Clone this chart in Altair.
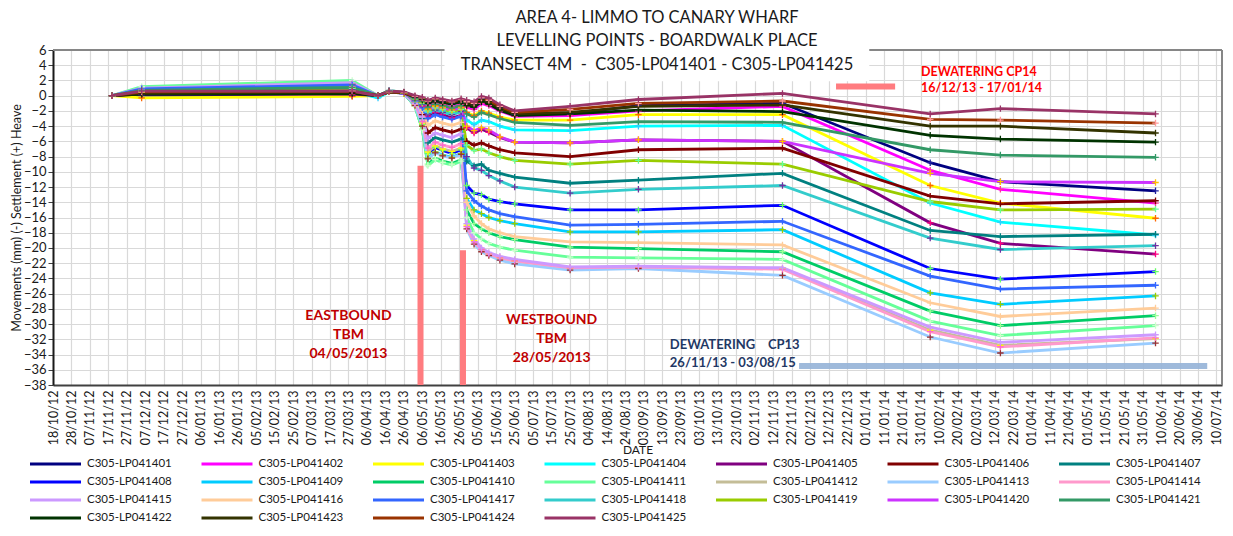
import altair as alt
import pandas as pd

# ---------------- data ----------------
dates = ["2012-11-19", "2012-12-05", "2013-03-29", "2013-04-12", "2013-04-18",
         "2013-04-26", "2013-05-02", "2013-05-06", "2013-05-09", "2013-05-13",
         "2013-05-17", "2013-05-22", "2013-05-27", "2013-05-30", "2013-06-03",
         "2013-06-07", "2013-06-11", "2013-06-17", "2013-06-25", "2013-07-25",
         "2013-08-31", "2013-11-17", "2014-02-05", "2014-03-15", "2014-06-07"]

names = ["C305-LP0414%02d" % i for i in range(1, 26)]

lp01 = [0, 0.1, 0.0, 0.0, 0.5, 0.4, -0.2, -0.5, -0.9, -0.7, -0.8, -1.0, -0.8, -1.0, -1.1, -0.4, -0.7, -1.6, -2.5, -2.4, -1.3, -1.0, -8.8, -11.3, -12.5]
lp02 = [0, 0.3, 0.4, 0.0, 0.6, 0.4, -0.3, -0.7, -1.3, -1.0, -1.2, -1.5, -1.2, -1.5, -1.8, -1.0, -1.3, -2.0, -2.7, -2.6, -2.0, -1.4, -9.8, -12.3, -14.1]
lp03 = [0, -0.3, -0.1, 0.0, 0.5, 0.3, -0.4, -0.9, -1.7, -1.3, -1.5, -1.8, -1.5, -2.2, -2.6, -2.0, -2.3, -2.8, -3.2, -3.2, -2.5, -2.5, -11.8, -14.1, -16.1]
lp04 = [0, 0.4, 0.6, -0.3, 0.5, 0.3, -0.4, -1.1, -2.2, -1.8, -2.0, -2.4, -2.1, -3.2, -3.8, -3.2, -3.4, -4.0, -4.5, -4.6, -4.0, -3.9, -14.1, -16.6, -18.3]
lp05 = [0, 0.2, 0.2, 0.0, 0.6, 0.4, -0.5, -1.4, -2.7, -2.2, -2.5, -2.9, -2.6, -4.2, -4.9, -4.4, -4.8, -5.5, -6.1, -6.2, -5.8, -6.0, -16.7, -19.4, -20.8]
lp06 = [0, 0.3, 0.4, 0.0, 0.6, 0.3, -0.8, -2.5, -4.9, -4.2, -4.5, -4.8, -4.4, -6.0, -6.5, -6.2, -6.6, -7.1, -7.5, -8.0, -7.1, -6.9, -13.2, -14.2, -13.8]
lp07 = [0, 0.5, 0.8, 0.0, 0.6, 0.3, -1.0, -3.0, -6.2, -5.5, -5.8, -6.1, -5.7, -8.6, -9.2, -9.0, -9.8, -10.2, -10.7, -11.5, -11.1, -10.2, -17.7, -18.5, -18.2]
lp08 = [0, 0.6, 1.0, 0.0, 0.6, 0.3, -1.2, -3.8, -7.6, -6.8, -7.2, -7.6, -7.1, -11.8, -12.8, -13.0, -13.6, -13.9, -14.2, -15.0, -15.0, -14.4, -22.7, -24.1, -23.1]
lp09 = [0, 0.8, 1.3, 0.0, 0.6, 0.3, -1.3, -4.0, -8.2, -7.4, -7.8, -8.1, -7.6, -13.5, -15.0, -15.5, -16.0, -16.4, -16.8, -17.9, -17.9, -17.6, -25.9, -27.4, -26.3]
lp10 = [0, 1.0, 1.6, 0.0, 0.7, 0.4, -1.4, -4.4, -9.0, -8.2, -8.6, -8.9, -8.4, -15.0, -16.8, -17.5, -18.0, -18.5, -18.9, -19.9, -20.1, -20.5, -28.3, -30.2, -28.9]
lp11 = [0, 1.2, 2.0, 0.0, 0.7, 0.4, -1.4, -4.5, -9.2, -8.4, -8.8, -9.1, -8.6, -16.0, -18.0, -18.8, -19.4, -19.9, -20.3, -21.2, -21.3, -21.5, -29.6, -31.5, -30.2]
lp12 = [0, 0.7, 1.1, 0.0, 0.6, 0.4, -1.2, -3.6, -7.4, -6.6, -7.0, -7.3, -6.9, -17.0, -19.0, -20.2, -20.8, -21.3, -21.7, -22.6, -22.5, -22.7, -30.8, -32.8, -31.9]
lp13 = [0, 0.9, 1.5, 0.0, 0.6, 0.4, -1.3, -4.0, -8.3, -7.5, -7.9, -8.2, -7.7, -17.5, -19.5, -20.5, -21.0, -21.6, -22.1, -22.9, -22.7, -23.6, -31.7, -33.8, -32.5]
lp14 = [0, 0.8, 1.2, 0.0, 0.6, 0.4, -1.1, -3.4, -6.9, -6.1, -6.5, -6.8, -6.3, -17.2, -19.2, -20.2, -20.8, -21.3, -21.7, -22.6, -22.5, -22.8, -31.0, -33.0, -31.8]
lp15 = [0, 1.0, 1.7, 0.0, 0.7, 0.4, -1.0, -2.8, -5.6, -4.9, -5.2, -5.5, -5.0, -16.8, -18.8, -20.0, -20.6, -21.1, -21.5, -22.5, -22.4, -22.6, -30.4, -32.4, -31.4]
lp16 = [0, 0.6, 0.9, 0.0, 0.6, 0.4, -0.8, -2.0, -3.9, -3.3, -3.6, -3.9, -3.5, -14.0, -15.8, -16.8, -17.5, -18.0, -18.5, -19.2, -19.3, -19.6, -27.2, -29.0, -27.9]
lp17 = [0, 0.9, 1.4, 0.0, 0.6, 0.4, -0.7, -1.6, -3.0, -2.5, -2.8, -3.1, -2.7, -12.5, -13.8, -14.5, -15.0, -15.5, -15.9, -17.0, -16.9, -16.5, -23.7, -25.4, -24.9]
lp18 = [0, 0.5, 0.8, 0.0, 0.6, 0.4, -0.6, -1.2, -2.4, -1.9, -2.2, -2.5, -2.1, -8.0, -9.5, -9.8, -10.5, -11.2, -12.0, -12.8, -12.3, -11.8, -18.7, -20.2, -19.7]
lp19 = [0, 0.6, 1.0, 0.0, 0.6, 0.4, -0.5, -1.0, -2.0, -1.6, -1.8, -2.1, -1.8, -6.5, -7.2, -7.0, -7.5, -8.0, -8.5, -9.0, -8.5, -9.0, -13.9, -15.0, -14.9]
lp20 = [0, 0.4, 0.6, 0.0, 0.5, 0.3, -0.4, -0.9, -1.8, -1.4, -1.6, -1.9, -1.6, -4.0, -4.6, -4.2, -4.5, -5.4, -6.1, -6.2, -5.8, -6.0, -10.2, -11.3, -11.4]
lp21 = [0, 0.7, 1.1, 0.0, 0.6, 0.4, -0.4, -0.8, -1.5, -1.1, -1.3, -1.6, -1.3, -2.4, -2.8, -2.2, -2.5, -3.0, -3.5, -3.9, -3.4, -3.5, -7.1, -7.8, -8.1]
lp22 = [0, 0.2, 0.3, 0.0, 0.5, 0.4, -0.2, -0.5, -1.0, -0.7, -0.9, -1.1, -0.8, -1.3, -1.5, -0.8, -1.1, -1.9, -2.6, -2.4, -1.9, -2.1, -5.2, -5.7, -6.1]
lp23 = [0, 0.3, 0.5, 0.0, 0.5, 0.4, -0.1, -0.4, -0.8, -0.5, -0.7, -0.9, -0.6, -1.0, -1.2, -0.5, -0.8, -1.6, -2.4, -2.2, -1.4, -1.2, -4.0, -4.0, -4.9]
lp24 = [0, 0.5, 0.6, 0.0, 0.5, 0.4, -0.1, -0.3, -0.7, -0.4, -0.6, -0.8, -0.5, -0.8, -1.0, -0.3, -0.6, -1.4, -2.2, -1.8, -1.0, -0.7, -3.1, -3.2, -3.6]
lp25 = [0, 0.6, 0.6, 0.0, 0.6, 0.5, 0.0, -0.2, -0.6, -0.3, -0.5, -0.7, -0.4, -0.6, -0.8, -0.1, -0.3, -1.2, -2.0, -1.4, -0.5, 0.3, -2.4, -1.7, -2.4]

series = [lp01, lp02, lp03, lp04, lp05, lp06, lp07, lp08, lp09, lp10, lp11, lp12, lp13,
          lp14, lp15, lp16, lp17, lp18, lp19, lp20, lp21, lp22, lp23, lp24, lp25]

line_colors = ["#000080", "#FF00FF", "#FFFF00", "#00FFFF", "#800080", "#800000", "#008080",
               "#0000FF", "#00CCFF", "#00CC66", "#66FF99", "#C4BD97", "#99CCFF", "#FF99CC",
               "#CC99FF", "#FFCC99", "#3366FF", "#33CCCC", "#99CC00", "#CC33FF", "#339966",
               "#003300", "#333300", "#993300", "#993366"]
marker_colors = ["#1F1F9F", "#FF3399", "#FF6600", "#33CCFF", "#FF0080", "#800000", "#008080",
                 "#66FF66", "#99CC00", "#99FF99", "#CCFFCC", "#FFFF00", "#993333", "#FF66CC",
                 "#CC99FF", "#FFCC99", "#3366FF", "#7030A0", "#66FF99", "#FFC000", "#339966",
                 "#003300", "#333300", "#FF9999", "#993366"]

tbm_dates = ["2013-05-05", "2013-05-28"]
tbm_tops = [-9.2, -20.3]
cp13_span = ["2013-11-26", "2014-07-05"]
cp14_span = ["2013-12-16", "2014-01-17"]
x_start, x_end = "2012-10-18", "2014-07-13"
y_min, y_max = -38, 6

title_lines = ["AREA 4- LIMMO TO CANARY WHARF",
               "LEVELLING POINTS - BOARDWALK PLACE",
               "TRANSECT 4M\u00a0\u00a0-\u00a0\u00a0C305-LP041401 - C305-LP041425"]

rows = []
for nm, vals in zip(names, series):
    for d, v in zip(dates, vals):
        rows.append({"date": d, "series": nm, "value": v})
df = pd.DataFrame(rows)

tick_ms = [int(t.value // 10**6) for t in pd.date_range("2012-10-18", "2014-07-10", freq="10D")]
x_dom = [int(pd.Timestamp(x_start).value // 10**6), int(pd.Timestamp(x_end).value // 10**6)]

FONT = "Lato"
xs = alt.Scale(type="utc", domain=x_dom, nice=False)
ys = alt.Scale(domain=[y_min, y_max], nice=False, zero=False)

x_axis = alt.Axis(values=tick_ms, format="%d/%m/%y", labelAngle=270, labelFont=FONT,
                  labelFontSize=12.5, labelColor="#1a1a1a", labelPadding=5, ticks=False,
                  labelOverlap=False, labelFlush=False, grid=True, gridColor="#D9D9D9",
                  gridWidth=1.2, domainColor="#404040", domainWidth=2, title="DATE",
                  titleFont=FONT, titleFontSize=12, titleFontWeight="normal",
                  titleColor="#1a1a1a", titlePadding=0)
y_axis = alt.Axis(values=list(range(-38, 7, 2)), labelFont=FONT, labelFontSize=13,
                  labelColor="#1a1a1a", tickSize=5, tickColor="#404040", labelPadding=2,
                  grid=True, gridColor="#D9D9D9", gridWidth=1.2, domainColor="#1a1a1a",
                  domainWidth=2, title="Movements (mm) (-) Settlement (+) Heave",
                  titleFont=FONT, titleFontSize=12.5, titleFontWeight="normal",
                  titleColor="#1a1a1a", titlePadding=0)

X = alt.X("date:T", scale=xs, axis=x_axis)
Y = alt.Y("value:Q", scale=ys, axis=y_axis)

legend = alt.Legend(orient="none", legendX=-24.5, legendY=405, columns=7, direction="horizontal",
                    symbolType="stroke", symbolSize=2601, symbolStrokeWidth=3,
                    labelFont=FONT, labelFontSize=11.5, labelColor="#1a1a1a",
                    labelOffset=4.5, clipHeight=18, rowPadding=0, columnPadding=27.5,
                    gridAlign="all", title=None, labelLimit=300)

# plot border (top & right) drawn as rules so the title box can interrupt it
border_top = alt.Chart(pd.DataFrame({"date": [x_start], "end": [x_end], "value": [y_max]})).mark_rule(
    color="#868686", strokeWidth=2).encode(x=X, x2="end:T", y=Y)
border_right = alt.Chart(pd.DataFrame({"date": [x_end], "value": [y_min], "top": [y_max]})).mark_rule(
    color="#868686", strokeWidth=2).encode(x=X, y=Y, y2="top:Q")

lines = alt.Chart(df).mark_line(strokeWidth=2.8).encode(
    x=X, y=Y,
    color=alt.Color("series:N", scale=alt.Scale(domain=names, range=line_colors), legend=legend),
)

points = alt.Chart(df).mark_point(shape="M-1,0L1,0M0,-1L0,1", size=42, strokeWidth=1.3,
                                  filled=False, opacity=1).encode(
    x=X, y=Y,
    stroke=alt.Stroke("series:N", scale=alt.Scale(domain=names, range=marker_colors), legend=None),
)

tbm_df = pd.DataFrame({"date": tbm_dates, "value": tbm_tops, "bottom": [y_min, y_min]})
tbm = alt.Chart(tbm_df).mark_rule(strokeWidth=6, color="#FF7C80").encode(x=X, y=Y, y2="bottom:Q")

cp13_df = pd.DataFrame({"date": [cp13_span[0]], "end": [cp13_span[1]], "value": [-35.5]})
cp13 = alt.Chart(cp13_df).mark_rule(strokeWidth=6, color="#95B3D7", opacity=0.9).encode(
    x=X, x2="end:T", y=Y)

cp14_df = pd.DataFrame({"date": [cp14_span[0]], "end": [cp14_span[1]], "value": [1.2]})
cp14 = alt.Chart(cp14_df).mark_rule(strokeWidth=6, color="#FF7C80").encode(x=X, x2="end:T", y=Y)

box_df = pd.DataFrame({"date": ["2013-05-18"], "end": ["2014-01-03"], "value": [1.9], "top": [7.5]})
box = alt.Chart(box_df).mark_rect(color="white").encode(x=X, x2="end:T", y=Y, y2="top:Q")

title = alt.Chart(pd.DataFrame({"k": [0]})).mark_text(
    text=title_lines, font=FONT, fontSize=16.5, color="#1a1a1a", lineHeight=23.3,
    align="center", baseline="middle").encode(x=alt.value(604), y=alt.value(-32))


def note(date, value, lines_, color, size, lh, align="center"):
    d = pd.DataFrame({"date": [date], "value": [value]})
    return alt.Chart(d).mark_text(text=lines_, font=FONT, fontSize=size, fontWeight="bold",
                                  color=color, lineHeight=lh, align=align,
                                  baseline="middle").encode(x=X, y=Y)


east = note("2013-03-27", -29.0, ["EASTBOUND", "TBM", "04/05/2013"], "#C00000", 14, 19)
west = note("2013-07-15", -29.5, ["WESTBOUND", "TBM", "28/05/2013"], "#C00000", 14, 19)
cp13_txt = note("2013-09-17", -32.8, ["DEWATERING\u00a0\u00a0\u00a0\u00a0CP13", "26/11/13 - 03/08/15"],
                "#1F3864", 13, 18, align="left")
cp14_txt = note("2014-01-31", 3.1, ["DEWATERING CP14", "16/12/13 - 17/01/14"],
                "#FF0000", 12.5, 16, align="left")

chart = alt.layer(border_top, border_right, lines, points, tbm, cp13, cp14, box, title,
                  east, west, cp13_txt, cp14_txt).properties(
    width=1169, height=335,
    autosize=alt.AutoSizeParams(type="none"),
    padding={"left": 45, "top": 42, "right": 2, "bottom": 140},
).configure_view(strokeWidth=0).configure(font=FONT)

chart.save("out.html", embed_options={"renderer": "svg", "actions": False})
